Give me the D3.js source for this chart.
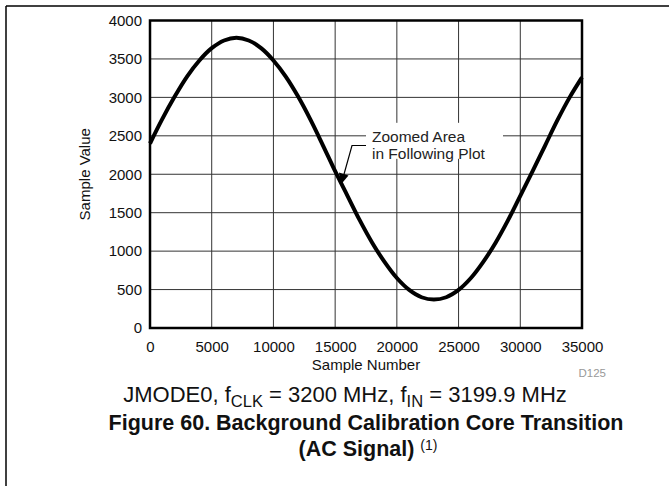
<!DOCTYPE html>
<html><head><meta charset="utf-8">
<script src="https://cdn.jsdelivr.net/npm/d3@7"></script>
<style>body{margin:0;background:#fff}svg{display:block;font-family:Arial,"Liberation Sans",Helvetica,sans-serif}</style>
</head><body>
<svg id="c" width="669" height="486"></svg>
<script>
const sampleNumber = [0,1000,2000,3000,4000,5000,6000,7000,8000,9000,10000,11000,12000,13000,14000,15000,16000,17000,18000,19000,20000,21000,22000,23000,24000,25000,26000,27000,28000,29000,30000,31000,32000,33000,34000,35000];
const sampleValue = [2400,2720,3010,3270,3480,3640,3740,3775,3740,3640,3480,3270,3010,2710,2380,2040,1720,1400,1110,860,650,495,400,370,400,495,650,860,1110,1400,1720,2040,2370,2700,3000,3260];
const xTicks = [0,5000,10000,15000,20000,25000,30000,35000];
const yTicks = [0,500,1000,1500,2000,2500,3000,3500,4000];
const annotationLines = ["Zoomed Area","in Following Plot"];

const svg = d3.select("#c");
const L=150,R=582,T=20.5,B=328;
const x = d3.scaleLinear().domain([0,35000]).range([L,R]);
const y = d3.scaleLinear().domain([0,4000]).range([B,T]);

// frame
svg.append("line").attr("x1",6).attr("x2",669).attr("y1",6).attr("y2",6).attr("stroke","#000").attr("stroke-width",1.5);
svg.append("line").attr("x1",6).attr("x2",6).attr("y1",6).attr("y2",486).attr("stroke","#000").attr("stroke-width",1.5);

// grid
const g = svg.append("g");
g.selectAll(".vx").data(xTicks.slice(1,-1)).join("line")
  .attr("x1",d=>x(d)).attr("x2",d=>x(d)).attr("y1",T).attr("y2",B)
  .attr("stroke","#333").attr("stroke-width",1);
g.selectAll(".hy").data(yTicks.slice(1,-1)).join("line")
  .attr("x1",L).attr("x2",R).attr("y1",d=>y(d)).attr("y2",d=>y(d))
  .attr("stroke","#333").attr("stroke-width",1);

// axes labels
const xa = svg.append("g").attr("transform",`translate(0,${B})`)
  .call(d3.axisBottom(x).tickValues(xTicks).tickSize(0).tickPadding(13).tickFormat(d3.format("d")));
xa.select(".domain").remove();
xa.selectAll("text").attr("font-size",15).attr("font-family","Arial, Liberation Sans").attr("fill","#111");
const ya = svg.append("g").attr("transform",`translate(${L},0)`)
  .call(d3.axisLeft(y).tickValues(yTicks).tickSize(0).tickPadding(8).tickFormat(d3.format("d")));
ya.select(".domain").remove();
ya.selectAll("text").attr("font-size",15).attr("font-family","Arial, Liberation Sans").attr("fill","#111");

// curve
svg.append("path").datum(sampleNumber.map((s,i)=>[s,sampleValue[i]]))
  .attr("d",d3.line().x(d=>x(d[0])).y(d=>y(d[1])).curve(d3.curveCatmullRom))
  .attr("fill","none").attr("stroke","#000").attr("stroke-width",4);

// annotation
const ax = 372;
svg.append("rect").attr("x",366).attr("y",y(2500)-13).attr("width",137).attr("height",36).attr("fill","#fff");
svg.append("text").attr("x",ax).attr("font-size",15.5).attr("fill","#222")
  .selectAll("tspan").data(annotationLines).join("tspan")
  .attr("x",ax).attr("y",(d,i)=>141.5+i*17.7).text(d=>d);
svg.append("path").attr("d","M366,145.5 L352,145.5 L343.5,176").attr("fill","none").attr("stroke","#000").attr("stroke-width",1.2);
svg.append("path").attr("d","M340.5,185 L339,172.5 L348.5,175.5 Z").attr("fill","#000");

// border
svg.append("rect").attr("x",L).attr("y",T).attr("width",R-L).attr("height",B-T)
  .attr("fill","none").attr("stroke","#000").attr("stroke-width",2.5);

// axis titles
svg.append("text").attr("x",(L+R)/2).attr("y",370).attr("text-anchor","middle").attr("font-size",15).attr("fill","#111").text("Sample Number");
svg.append("text").attr("transform",`translate(90,${(T+B)/2}) rotate(-90)`).attr("text-anchor","middle").attr("font-size",15).attr("fill","#111").text("Sample Value");
svg.append("text").attr("x",606).attr("y",377).attr("text-anchor","end").attr("font-size",11.5).attr("fill","#999").text("D125");

// condition line
const cond = svg.append("text").attr("x",345).attr("y",402).attr("text-anchor","middle").attr("font-size",22).attr("fill","#111");
cond.append("tspan").text("JMODE0, f");
cond.append("tspan").attr("font-size",16.5).attr("dy",5).text("CLK");
cond.append("tspan").attr("dy",-5).text(" = 3200 MHz, f");
cond.append("tspan").attr("font-size",16.5).attr("dy",5).text("IN");
cond.append("tspan").attr("dy",-5).text(" = 3199.9 MHz");

// title
svg.append("text").attr("x",366).attr("y",430).attr("text-anchor","middle").attr("font-size",21.5).attr("font-weight","bold").attr("fill","#111")
  .text("Figure 60. Background Calibration Core Transition");
const t2 = svg.append("text").attr("x",368).attr("y",456).attr("text-anchor","middle").attr("font-size",21.5).attr("font-weight","bold").attr("fill","#111");
t2.append("tspan").text("(AC Signal) ");
t2.append("tspan").attr("font-size",14).attr("font-weight","normal").attr("dy",-6).text("(1)");
</script>
</body></html>
